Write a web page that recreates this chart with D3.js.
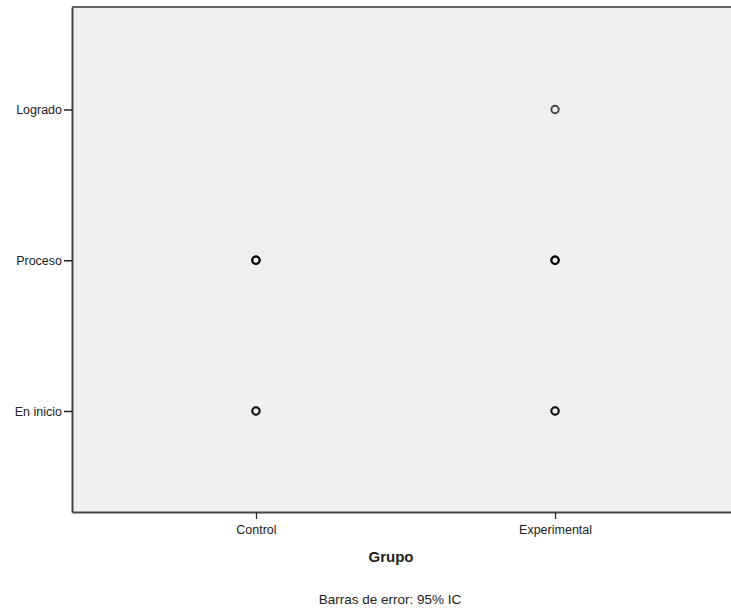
<!DOCTYPE html>
<html>
<head>
<meta charset="utf-8">
<script src="https://cdn.jsdelivr.net/npm/d3@7"></script>
<style>
  body { margin: 0; background: #fff; }
  text { font-family: "Liberation Sans", Arial, sans-serif; fill: #222; }
</style>
</head>
<body>
<svg id="chart" width="731" height="610"></svg>
<script>
// categories and levels
const groups = ["Control", "Experimental"];
const levelLabels = ["En inicio", "Proceso", "Logrado"];
const levelValues = [1, 2, 3];

// points: group, level, and how many markers overlap at that spot
const pointGroup = ["Control", "Control", "Experimental", "Experimental", "Experimental"];
const pointLevel = [2, 1, 3, 2, 1];
const pointOverlap = [3, 2, 1, 3, 2];

const svg = d3.select("#chart");
const plotLeft = 72, plotTop = 7, plotRight = 739, plotBottom = 512;

const x = d3.scalePoint().domain(groups).range([plotLeft, plotRight]).padding(0.615);
const y = d3.scaleLinear().domain([0.33, 3.68]).range([plotBottom, plotTop]);

// plot background
svg.append("rect")
    .attr("x", plotLeft).attr("y", plotTop)
    .attr("width", plotRight - plotLeft).attr("height", plotBottom - plotTop)
    .attr("fill", "#f0f0f0");

// top frame line
svg.append("line")
    .attr("x1", plotLeft).attr("x2", plotRight).attr("y1", plotTop).attr("y2", plotTop)
    .attr("stroke", "#666").attr("stroke-width", 2);

const yAxis = d3.axisLeft(y)
    .tickValues(levelValues)
    .tickFormat((d, i) => levelLabels[i])
    .tickSizeInner(8).tickSizeOuter(0).tickPadding(2);

const gy = svg.append("g").attr("transform", `translate(${plotLeft},0)`).call(yAxis);
gy.select(".domain").attr("stroke", "#444").attr("stroke-width", 2);
gy.selectAll(".tick line").attr("stroke", "#222").attr("stroke-width", 1.5);
gy.selectAll(".tick text").style("font-size", "12.5px").attr("fill", "#222");

const xAxis = d3.axisBottom(x).tickSizeInner(7).tickSizeOuter(0).tickPadding(6);
const gx = svg.append("g").attr("transform", `translate(0,${plotBottom})`).call(xAxis);
gx.select(".domain").attr("stroke", "#444").attr("stroke-width", 2);
gx.selectAll(".tick line").attr("stroke", "#222").attr("stroke-width", 1.2);
gx.selectAll(".tick text").style("font-size", "12.5px").attr("fill", "#222");

// markers
const pts = [];
pointGroup.forEach((g, i) => {
  for (let k = 0; k < pointOverlap[i]; k++) pts.push({ g: g, v: pointLevel[i] });
});
svg.append("g").selectAll("circle")
  .data(pts)
  .join("circle")
    .attr("cx", d => x(d.g))
    .attr("cy", d => y(d.v))
    .attr("r", 3.7)
    .attr("fill", "none")
    .attr("stroke", "#000")
    .attr("stroke-width", 2)
    .attr("stroke-opacity", 0.7);

// titles
svg.append("text")
    .attr("x", 391).attr("y", 562)
    .attr("text-anchor", "middle")
    .style("font-size", "15px").style("font-weight", "bold")
    .text("Grupo");

svg.append("text")
    .attr("x", 390).attr("y", 604)
    .attr("text-anchor", "middle")
    .style("font-size", "13.5px")
    .text("Barras de error: 95% IC");
</script>
</body>
</html>
